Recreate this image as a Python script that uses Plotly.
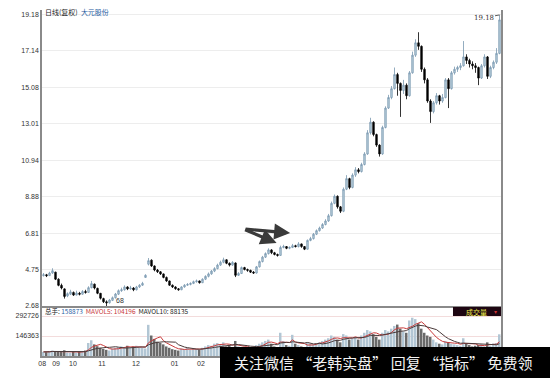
import plotly.graph_objects as go
import pandas as pd

# ---------------- data ----------------
opens = [
    4.40, 4.45, 4.40, 4.55, 4.60, 4.20, 3.85, 3.65, 3.25, 3.35,
    3.45, 3.30, 3.40, 3.35, 3.50, 3.45, 3.72, 3.92, 3.68, 3.40,
    3.10, 2.92, 2.86, 3.00, 3.15, 3.35, 3.55, 3.60, 3.76, 3.65,
    3.70, 3.60, 3.76, 3.86, 4.30, 5.05, 5.28, 4.95, 4.72, 4.62,
    4.50, 4.30, 4.10, 3.86, 3.76, 3.66, 3.60, 3.76, 3.86, 3.90,
    3.96, 4.06, 4.10, 4.00, 4.20, 4.36, 4.50, 4.66, 4.80, 5.00,
    5.16, 5.30, 5.10, 5.00, 5.12, 4.42, 4.52, 4.86, 4.75, 4.70,
    4.60, 4.55, 4.90, 5.20, 5.45, 5.65, 5.86, 5.70, 5.60, 5.55,
    6.00, 6.05, 5.95, 6.00, 6.10, 6.05, 6.20, 6.05, 5.90, 6.40,
    6.50, 6.75, 6.95, 7.10, 7.30, 7.50, 7.80, 8.50, 8.90, 8.30,
    8.05, 9.30, 9.90, 9.40, 10.10, 10.40, 10.30, 10.70, 11.30, 12.50,
    13.10, 12.40, 11.80, 11.30, 12.80, 13.90, 14.50, 15.00, 15.80, 15.30,
    14.90, 15.20, 14.60, 15.90, 16.90, 17.60, 17.40, 16.10, 15.50, 14.30,
    13.70, 14.20, 14.60, 14.30, 14.50, 15.50, 15.00, 15.90, 16.10, 16.20,
    16.30, 16.80, 16.60, 16.40, 16.30, 16.20, 15.60, 16.30, 16.80, 15.70,
    16.20, 16.50, 17.00,
]
closes = [
    4.45, 4.40, 4.55, 4.68, 4.20, 3.85, 3.70, 3.22, 3.38, 3.48,
    3.30, 3.42, 3.35, 3.50, 3.45, 3.72, 3.95, 3.70, 3.40, 3.12,
    2.92, 2.86, 3.02, 3.15, 3.36, 3.55, 3.60, 3.76, 3.65, 3.70,
    3.60, 3.76, 3.86, 3.96, 4.42, 5.25, 4.95, 4.72, 4.62, 4.50,
    4.30, 4.10, 3.86, 3.76, 3.66, 3.60, 3.76, 3.86, 3.90, 3.96,
    4.06, 4.10, 4.00, 4.20, 4.36, 4.50, 4.66, 4.80, 5.00, 5.16,
    5.30, 5.10, 5.00, 5.15, 4.42, 4.52, 4.86, 4.75, 4.70, 4.60,
    4.55, 4.90, 5.20, 5.45, 5.65, 5.86, 5.70, 5.60, 5.55, 6.00,
    6.05, 5.95, 6.00, 6.10, 6.05, 6.20, 6.05, 5.90, 6.40, 6.50,
    6.75, 6.95, 7.10, 7.30, 7.50, 7.80, 8.50, 8.90, 8.30, 8.05,
    9.30, 9.90, 9.40, 10.10, 10.40, 10.30, 10.70, 11.30, 12.50, 13.10,
    12.40, 11.80, 11.30, 12.80, 13.90, 14.50, 15.00, 15.80, 15.30, 14.90,
    15.20, 14.60, 15.90, 16.90, 17.60, 17.40, 16.10, 15.50, 14.30, 13.70,
    14.20, 14.60, 14.30, 14.50, 15.50, 15.00, 15.90, 16.10, 16.20, 16.30,
    16.80, 16.60, 16.40, 16.30, 16.20, 15.60, 16.30, 16.80, 15.70, 16.20,
    16.50, 17.00, 18.90,
]
highs = [
    4.55, 4.50, 4.62, 4.82, 4.62, 4.25, 3.95, 3.68, 3.45, 3.60,
    3.50, 3.55, 3.48, 3.58, 3.60, 3.80, 4.10, 3.95, 3.72, 3.42,
    3.15, 3.00, 3.08, 3.22, 3.42, 3.62, 3.72, 3.85, 3.80, 3.82,
    3.75, 3.82, 3.92, 4.05, 4.48, 5.40, 5.32, 4.98, 4.78, 4.66,
    4.52, 4.35, 4.12, 3.90, 3.80, 3.70, 3.80, 3.92, 3.98, 4.02,
    4.12, 4.18, 4.12, 4.25, 4.42, 4.58, 4.72, 4.88, 5.08, 5.25,
    5.42, 5.32, 5.15, 5.22, 5.15, 4.60, 4.92, 4.90, 4.80, 4.74,
    4.66, 4.95, 5.26, 5.52, 5.72, 5.95, 5.90, 5.75, 5.65, 6.10,
    6.15, 6.08, 6.06, 6.20, 6.15, 6.30, 6.22, 6.08, 6.45, 6.60,
    6.82, 7.02, 7.18, 7.38, 7.60, 7.90, 8.60, 9.00, 8.95, 8.35,
    9.40, 10.10, 9.95, 10.20, 10.55, 10.50, 10.80, 11.40, 12.65, 13.35,
    13.15, 12.45, 11.85, 12.90, 14.00, 14.65, 15.15, 16.20, 15.90, 15.35,
    15.50, 15.30, 16.00, 17.10, 17.80, 18.20, 17.45, 16.20, 15.60, 14.40,
    14.30, 14.75, 14.65, 14.70, 15.60, 15.60, 16.00, 16.25, 16.30, 16.45,
    17.70, 16.95, 16.70, 16.55, 16.45, 16.25, 16.40, 16.95, 16.85, 16.30,
    16.60, 17.30, 19.18,
]
lows = [
    4.35, 4.32, 4.38, 4.50, 4.15, 3.80, 3.62, 3.10, 3.18, 3.30,
    3.25, 3.28, 3.28, 3.32, 3.38, 3.42, 3.68, 3.62, 3.35, 3.05,
    2.85, 2.68, 2.82, 2.96, 3.10, 3.30, 3.48, 3.55, 3.58, 3.60,
    3.52, 3.56, 3.70, 3.82, 4.28, 4.98, 4.90, 4.65, 4.55, 4.44,
    4.25, 4.05, 3.82, 3.70, 3.60, 3.55, 3.58, 3.72, 3.82, 3.85,
    3.92, 4.00, 3.95, 3.98, 4.15, 4.30, 4.45, 4.60, 4.76, 4.95,
    5.10, 5.05, 4.92, 4.96, 4.32, 4.38, 4.50, 4.70, 4.62, 4.55,
    4.50, 4.52, 4.86, 5.15, 5.40, 5.60, 5.62, 5.55, 5.48, 5.52,
    5.95, 5.90, 5.90, 5.96, 6.00, 6.00, 5.98, 5.85, 5.88, 6.35,
    6.45, 6.70, 6.90, 7.05, 7.25, 7.45, 7.75, 8.45, 8.20, 7.95,
    8.00, 9.25, 9.30, 9.35, 10.00, 10.20, 10.25, 10.65, 11.25, 12.40,
    12.30, 11.70, 11.15, 11.25, 12.75, 13.85, 14.40, 14.95, 14.60, 13.40,
    14.70, 14.40, 14.55, 15.85, 16.80, 17.20, 15.95, 15.30, 14.20, 13.06,
    13.60, 14.10, 14.10, 14.20, 14.45, 13.90, 14.95, 15.80, 15.95, 16.05,
    16.25, 16.40, 16.20, 16.10, 15.90, 15.20, 15.55, 16.20, 15.55, 15.60,
    16.10, 16.40, 16.95,
]
volumes = [
    30000, 28000, 35000, 40000, 32000, 36000, 30000, 42000, 26000, 24000,
    30000, 26000, 34000, 32000, 40000, 95000, 115000, 85000, 72000, 60000,
    52000, 45000, 40000, 55000, 60000, 65000, 70000, 65000, 75000, 60000,
    70000, 75000, 65000, 60000, 55000, 228000, 150000, 125000, 105000, 95000,
    85000, 70000, 60000, 50000, 45000, 40000, 55000, 50000, 60000, 45000,
    55000, 50000, 45000, 60000, 70000, 80000, 75000, 90000, 95000, 85000,
    100000, 70000, 80000, 60000, 110000, 70000, 60000, 55000, 65000, 50000,
    60000, 80000, 90000, 100000, 110000, 120000, 90000, 70000, 60000, 170000,
    110000, 80000, 75000, 155000, 90000, 80000, 70000, 60000, 100000, 90000,
    85000, 95000, 100000, 110000, 120000, 130000, 150000, 140000, 120000, 100000,
    160000, 150000, 120000, 130000, 140000, 120000, 150000, 170000, 190000, 180000,
    160000, 140000, 120000, 170000, 190000, 180000, 200000, 220000, 230000, 200000,
    180000, 170000, 260000, 280000, 270000, 240000, 200000, 170000, 150000, 140000,
    120000, 100000, 90000, 85000, 110000, 100000, 90000, 85000, 80000, 75000,
    130000, 90000, 80000, 70000, 75000, 80000, 85000, 70000, 100000, 75000,
    92000, 95000, 158873,
]
price_ticks = [2.68, 4.75, 6.81, 8.88, 10.94, 13.01, 15.08, 17.14, 19.18]
price_tick_text = ["2.68", "4.75", "6.81", "8.88", "10.94", "13.01", "15.08", "17.14", "19.18"]
vol_ticks = [146363, 292726]
vol_tick_text = ["146363", "292726"]
month_labels = ["08", "09", "10", "11", "12", "01", "02"]
month_pos = [-0.45, 4.2, 9.8, 19.5, 30.8, 43.7, 52.5]

# ---------------- figure ----------------
idx = list(range(len(closes)))
ma5 = pd.Series(volumes).rolling(5, min_periods=1).mean()
ma10 = pd.Series(volumes).rolling(10, min_periods=1).mean()

fig = go.Figure()
fig.add_trace(go.Candlestick(
    x=idx, open=opens, high=highs, low=lows, close=closes,
    increasing=dict(line=dict(color="#7898b0", width=0.8), fillcolor="#c0d3e0"),
    decreasing=dict(line=dict(color="#000000", width=0.8), fillcolor="#000000"),
    whiskerwidth=0, xaxis="x", yaxis="y", showlegend=False, hoverinfo="skip",
))
bar_colors = ["#b2c6d4" if c >= o else "#6a6a6a" for o, c in zip(opens, closes)]
fig.add_trace(go.Bar(
    x=idx, y=volumes, marker=dict(color=bar_colors, line=dict(width=0)),
    xaxis="x2", yaxis="y2", showlegend=False, hoverinfo="skip",
))
fig.add_trace(go.Scatter(x=idx, y=ma5, mode="lines", line=dict(color="#c83a3a", width=1),
                         xaxis="x2", yaxis="y2", showlegend=False, hoverinfo="skip"))
fig.add_trace(go.Scatter(x=idx, y=ma10, mode="lines", line=dict(color="#4a3a3a", width=1),
                         xaxis="x2", yaxis="y2", showlegend=False, hoverinfo="skip"))

axis_col = "#8a8a8a"
fig.update_layout(
    width=550, height=378,
    margin=dict(l=42, r=49, t=10, b=22),
    paper_bgcolor="white", plot_bgcolor="white",
    showlegend=False, bargap=0.35,
    font=dict(family="Liberation Sans, Noto Sans CJK SC", size=7, color="#333333"),
    xaxis=dict(domain=[0, 1], anchor="y", range=[-0.5, len(closes) - 0.5],
               showticklabels=False, showgrid=False, zeroline=False,
               showline=True, linecolor=axis_col, linewidth=2,
               rangeslider=dict(visible=False)),
    yaxis=dict(domain=[0.1445, 1], anchor="x", range=[2.68, 19.46],
               tickvals=price_ticks, ticktext=price_tick_text,
               showgrid=True, gridcolor="#ededed", gridwidth=1,
               showline=True, mirror=True, linecolor=axis_col, linewidth=1.5,
               zeroline=False, ticks=""),
    xaxis2=dict(domain=[0, 1], anchor="y2", range=[-0.5, len(closes) - 0.5],
                tickvals=month_pos, ticktext=month_labels,
                showgrid=False, zeroline=False,
                showline=True, linecolor=axis_col, linewidth=1.5, ticks=""),
    yaxis2=dict(domain=[0, 0.1416], anchor="x2", range=[0, 358600],
                tickvals=vol_ticks, ticktext=vol_tick_text,
                showgrid=True, gridcolor="#f3dcdc", gridwidth=1,
                showline=True, mirror=True, linecolor=axis_col, linewidth=1.5,
                zeroline=False, ticks=""),
)

cjk = "Noto Sans CJK SC"
annotations = [
    dict(xref="paper", yref="paper", x=0.003, y=0.994, xanchor="left", yanchor="middle",
         showarrow=False, font=dict(family=cjk, size=7, color="#222222"),
         text="日线(复权)  <span style='color:#2a5d9f'>大元股份</span>"),
    dict(xref="paper", yref="paper", x=0.002, y=0.130, xanchor="left", yanchor="middle",
         showarrow=False, font=dict(family=cjk, size=6.5, color="#222222"),
         text="总手: <span style='color:#2a5d9f'>158873</span>  "
              "<span style='color:#c83a3a'>MAVOL5: 104196</span>  MAVOL10: 88135"),
    dict(xref="paper", yref="paper", x=0.9477, y=0.1286, xanchor="center", yanchor="middle",
         showarrow=False, font=dict(family=cjk, size=7, color="#f0f050"), text="成交量"),
    dict(xref="paper", yref="paper", x=0.988, y=0.1286, xanchor="center", yanchor="middle",
         showarrow=False, font=dict(size=6, color="#d03030"), text="▾"),
    dict(x=152, y=19.18, xref="x", yref="y", text="19.18", showarrow=True,
         ax=-16, ay=3, arrowhead=0, arrowwidth=0.8, arrowcolor="#333333",
         font=dict(family="DejaVu Serif", size=7, color="#333333")),
    dict(x=25.5, y=3.02, xref="x", yref="y", text="68", showarrow=False,
         font=dict(size=7, color="#333333")),
    dict(x=77.7, y=6.25, xref="x", yref="y", text="", showarrow=True,
         ax=-33, ay=-14, arrowhead=2, arrowsize=1.0, arrowwidth=3.2, arrowcolor="#3a3a3a"),
    dict(x=82.2, y=6.82, xref="x", yref="y", text="", showarrow=True,
         ax=-46, ay=-4, arrowhead=2, arrowsize=1.0, arrowwidth=3.2, arrowcolor="#3a3a3a"),
    dict(xref="paper", yref="paper", x=0.744, y=-0.0188, xanchor="center", yanchor="middle",
         showarrow=False, font=dict(family=cjk, size=15, color="#f2f2f2"),
         text="关注微信 “老韩实盘” 回复 “指标” 免费领"),
]
fig.update_layout(annotations=annotations)

fig.update_layout(shapes=[
    dict(type="rect", xref="paper", yref="paper", x0=0.8954, x1=1.0, y0=0.1156, y1=0.1416,
         fillcolor="#1e0612", line=dict(width=0), layer="above"),
    dict(type="rect", xref="paper", yref="paper", x0=0.3878, x1=1.11, y0=-0.07, y1=0.026,
         fillcolor="#000000", line=dict(width=0), layer="above"),
])

fig.write_html("out.html", config={"displayModeBar": False},
               post_script="document.body.style.margin='0px';")
